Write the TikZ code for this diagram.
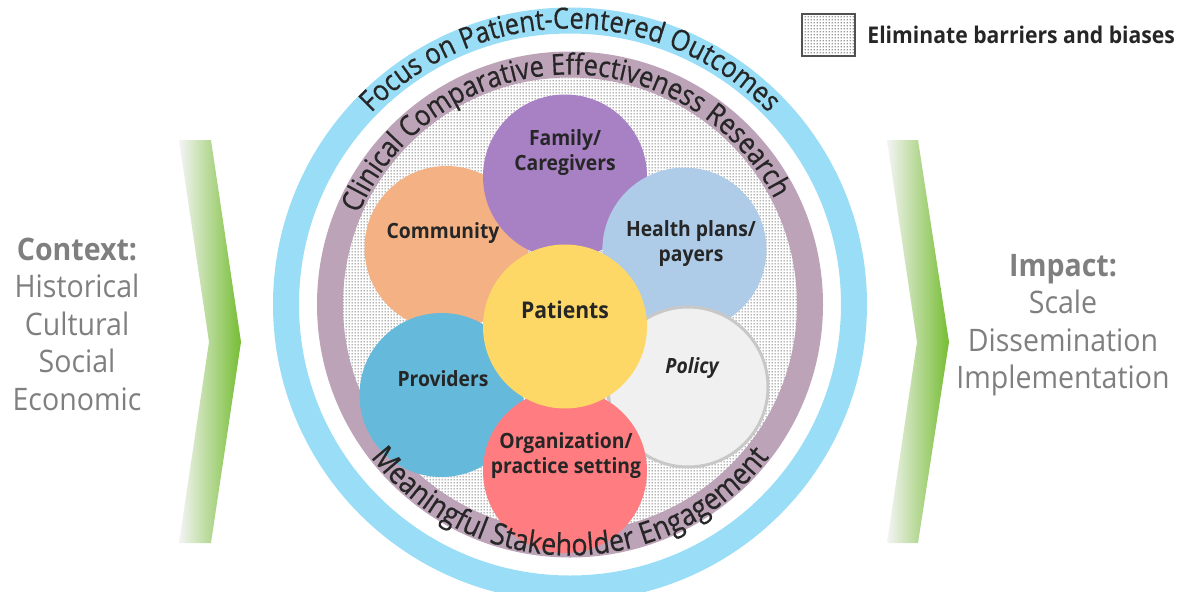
\documentclass[tikz,border=0pt]{standalone}
\usepackage{fontspec}
\setmainfont{Open Sans}[FakeStretch=0.92]
\newfontfamily\ringfam{Open Sans}[FakeStretch=0.88, FakeBold=0.5]
\usepackage{tikz}
\usetikzlibrary{positioning}
\usetikzlibrary{decorations.text}
\usetikzlibrary{patterns.meta}

\definecolor{outerblue}{RGB}{153,221,246}
\definecolor{mauve}{RGB}{188,163,184}
\definecolor{famcol}{RGB}{168,128,196}
\definecolor{comcol}{RGB}{243,177,132}
\definecolor{hpcol}{RGB}{174,204,232}
\definecolor{patcol}{RGB}{254,216,102}
\definecolor{provcol}{RGB}{101,185,218}
\definecolor{polcol}{RGB}{240,240,240}
\definecolor{polline}{RGB}{200,200,200}
\definecolor{orgcol}{RGB}{255,124,128}
\definecolor{darktext}{RGB}{38,38,38}
\definecolor{sidetext}{RGB}{127,127,127}
\definecolor{chevgreen}{RGB}{118,189,52}
\definecolor{chevlight}{RGB}{244,244,244}

\tikzdeclarepattern{
  name=finedots,
  type=uncolored,
  bounding box={(0,0) and (1.5pt,1.5pt)},
  tile size={(1.5pt,1.5pt)},
  code={\fill (0.75pt,0.75pt) circle (0.4pt);}
}

\newcommand\ringfont{\ringfam\fontsize{14.5}{16}\selectfont}
\newcommand\cerfont{\ringfam\fontsize{14.5}{16}\selectfont}
\newcommand\msefont{\ringfam\fontsize{15.2}{16}\selectfont}

\begin{document}
\begin{tikzpicture}[x=0.5pt, y=0.5pt,
    petal/.style={circle, minimum size=82pt, inner sep=0pt},
    tag/.style={font=\bfseries\fontsize{10.5}{12.5}\selectfont, text=darktext, align=center, inner sep=0pt},
    sidelist/.style={font=\fontsize{15.5}{18.75}\selectfont, text=sidetext, align=center, inner sep=0pt},
    dotfill/.style={pattern=finedots, pattern color=black!80},
    chevron/.style={left color=chevlight, right color=chevgreen}]
    \useasboundingbox (0,0) rectangle (1189,591);

    % rings
    \coordinate (c) at (570,286.5);
    \draw[outerblue, line width=13pt] (c) circle[radius=284];
    \draw[mauve, line width=13pt] (c) circle[radius=240];
    \fill[dotfill] (c) circle[radius=227];

    % petals
    \node (community) [petal, fill=comcol] at (446.5,343) {};
    \node (family) [petal, fill=famcol] at (565,414.5) {};
    \node (health) [petal, fill=hpcol] at (684.4,341.4) {};
    \node (policy) [petal, fill=polcol, draw=polline, line width=1.5pt, minimum size=80pt] at (688,204) {};
    \node (providers) [petal, fill=provcol] at (441.5,196) {};
    \node (org) [petal, fill=orgcol] at (565,120) {};
    \node (patients) [petal, fill=patcol] at (565,264.5) {};

    \node (familytxt) [tag] at (565,438) {Family/\\Caregivers};
    \node (communitytxt) [tag] at (443,358) {Community};
    \node (healthtxt) [tag] at (691,347.5) {Health plans/\\payers};
    \node (patientstxt) [tag, font=\bfseries\fontsize{11.5}{14}\selectfont] at (565,281) {Patients};
    \node (policytxt) [tag, font=\bfseries\itshape\fontsize{10.5}{12.5}\selectfont] at (692,223) {Policy};
    \node (providerstxt) [tag] at (443,212) {Providers};
    \node (orgtxt) [tag] at (566,135) {Organization/\\practice setting};

    % ring labels
    \path[decorate, decoration={text along path, text align=center, text color=darktext,
        text={|\ringfont|Focus on Patient-Centered Outcomes}}]
        (c) ++(180:276) arc[start angle=180, end angle=0, radius=276];
    \path[decorate, decoration={text along path, text align=center, text color=darktext,
        text={|\cerfont|Clinical Comparative Effectiveness Research}}]
        (c) ++(187:230) arc[start angle=187, end angle=-3, radius=230];
    \path[decorate, decoration={text along path, text align=center, text color=darktext,
        text={|\msefont|Meaningful Stakeholder Engagement}}]
        (c) ++(180:251) arc[start angle=180, end angle=360, radius=251];

    % chevrons
    \shade[chevron] (179,451) -- (211,451) -- (241,249) -- (211,48) -- (179,48) -- (209,249) -- cycle;
    \shade[chevron] (887,451) -- (918,451) -- (949,249) -- (918,48) -- (887,48) -- (917,249) -- cycle;

    \node (context) [sidelist] at (77,267) {\textbf{Context:}\\Historical\\Cultural\\Social\\Economic};
    \node (impact) [sidelist] at (1063,266) {\textbf{Impact:}\\Scale\\Dissemination\\Implementation};

    % legend
    \node (key) [draw=darktext!80, line width=1pt, dotfill,
        minimum width=26.5pt, minimum height=21pt, inner sep=0pt] at (828.5,556) {};
    \node (keytxt) [tag, font=\bfseries\fontsize{11.5}{13}\selectfont, right=5.5pt of key.east, anchor=west] {Eliminate barriers and biases};
\end{tikzpicture}
\end{document}
